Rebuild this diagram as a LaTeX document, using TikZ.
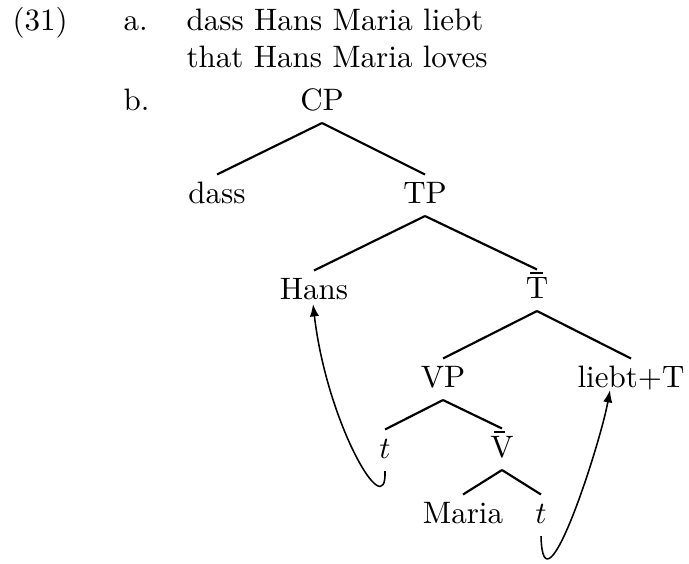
\documentclass[tikz,border=0pt]{standalone}
\usetikzlibrary{arrows.meta,calc}
\begin{document}
\begin{tikzpicture}[x=0.32258pt,y=-0.32258pt,
  lab/.style={anchor=base west,inner sep=0pt},
  cat/.style={anchor=base,text height=7pt,text depth=2pt,inner xsep=0pt,inner ysep=2pt},
  branch/.style={line width=0.7pt},
  barline/.style={line width=0.45pt},
  move/.style={line width=0.5pt,-{Latex[length=4pt,width=3pt]}}]
\useasboundingbox (0,0) rectangle (689,563);
% example header
\node[lab] (num) at (12,30) {(31)};
\node[lab] (la) at (123,30) {a.};
\node[lab] (ger) at (186,30) {dass Hans Maria liebt};
\node[lab] (gloss) at (186,67) {that Hans Maria loves};
\node[lab] (lb) at (123,110) {b.};
% tree
\node[cat] (CP) at (322,110) {CP};
\node[cat] (dass) at (217,203) {dass};
\node[cat] (TP) at (425,203) {TP};
\node[cat] (Hans) at (314,299) {Hans};
\node[cat] (Tbar) at (537,298) {T};
\node[cat] (VP) at (443,387) {VP};
\node[cat] (liebtT) at (631,387) {liebt+T};
\node[cat] (t1) at (385,458) {$t$};
\node[cat] (Vbar) at (502,457) {V};
\node[cat] (Maria) at (463,523) {Maria};
\node[cat] (t2) at (541,523) {$t$};
% bars over T and V
\draw[barline] ($(Tbar.base)+(-7,-25)$) -- ($(Tbar.base)+(6,-25)$);
\draw[barline] ($(Vbar.base)+(-8,-25)$) -- ($(Vbar.base)+(3,-25)$);
\draw[branch] (CP.south) -- (dass.north);
\draw[branch] (CP.south) -- (TP.north);
\draw[branch] (TP.south) -- (Hans.north);
\draw[branch] (TP.south) -- (Tbar.north);
\draw[branch] (Tbar.south) -- (VP.north);
\draw[branch] (Tbar.south) -- (liebtT.north);
\draw[branch] (VP.south) -- (t1.north);
\draw[branch] (VP.south) -- (Vbar.north);
\draw[branch] (Vbar.south) -- (Maria.north);
\draw[branch] (Vbar.south) -- (t2.north);
% movement arrows
\coordinate (hansfoot) at ($(Hans.base)+(-1,5)$);
\coordinate (liebtfoot) at ($(liebtT.base)+(-21,3)$);
\draw[move] (t1.south) .. controls +(2,55) and +(14,120) .. (hansfoot);
\draw[move] (t2.south) .. controls +(2,85) and +(-10,55) .. (liebtfoot);
\end{tikzpicture}
\end{document}
